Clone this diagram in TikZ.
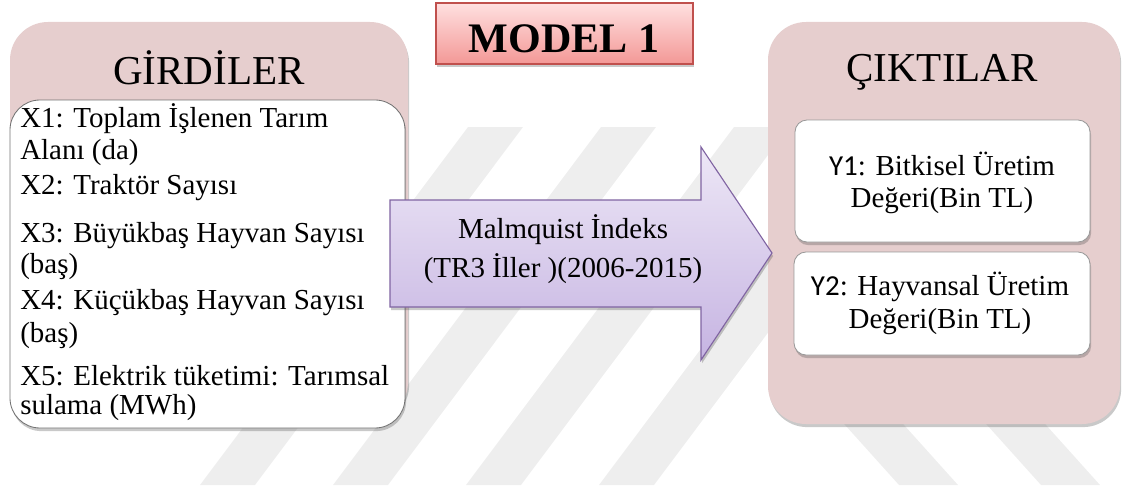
\documentclass[tikz,border=0pt]{standalone}
\usepackage{fontspec}
\setmainfont{Liberation Serif}
\newfontfamily\calibfont{Carlito}
\usepackage{tikz}
\usetikzlibrary{shadows}
\usepackage{xcolor}
\definecolor{boxpink}{RGB}{230,206,206}
\definecolor{wmgray}{RGB}{238,238,238}
\definecolor{modelred}{RGB}{192,80,77}
\definecolor{modeltop}{RGB}{255,224,224}
\definecolor{modelbot}{RGB}{243,152,150}
\definecolor{arrowline}{RGB}{128,100,162}
\definecolor{arrowtop}{RGB}{237,231,246}
\definecolor{arrowbot}{RGB}{198,180,226}

\begin{document}
\begin{tikzpicture}[x=0.025cm,y=-0.025cm,
  txt/.style={font=\fontsize{20.6}{24}\selectfont,inner sep=0pt},
  headtxt/.style={font=\fontsize{29.2}{34}\selectfont,inner sep=0pt},
  softshadow/.style={drop shadow={shadow xshift=0.8pt,shadow yshift=-2.2pt,opacity=0.3,fill=black!70}}]
\useasboundingbox (0,0) rectangle (1129,499);
% watermark
\begin{scope}
 \clip (0,127) rectangle (1129,485);
 \foreach \x in {200,333,466,599}
   \fill[wmgray] (\x,485) --++ (55,0) --++ (268,-358) --++ (-55,0) -- cycle;
\end{scope}
\begin{scope}
 \clip (776,300) rectangle (1129,485);
 \foreach \x in {899,1041}
   \fill[wmgray] (\x,485) --++ (59,0) --++ (-322,-358) --++ (-59,0) -- cycle;
\end{scope}
% inputs
\path[fill=boxpink,rounded corners=0.95cm,softshadow] (10,22) rectangle (408,420);
\path[fill=white,draw=black!55,line width=0.6pt,rounded corners=0.75cm,softshadow] (10,100) rectangle (405,428);
\node (girdi) [headtxt,anchor=base] at (209,85) {GİRDİLER};
\node (x1a) [txt,anchor=base west] at (20,127) {X1: Toplam İşlenen Tarım};
\node (x1b) [txt,anchor=base west] at (20,159) {Alanı (da)};
\node (x2)  [txt,anchor=base west] at (20,194) {X2: Traktör Sayısı};
\node (x3a) [txt,anchor=base west] at (20,242) {X3: Büyükbaş Hayvan Sayısı};
\node (x3b) [txt,anchor=base west] at (20,273) {(baş)};
\node (x4a) [txt,anchor=base west] at (20,309) {X4: Küçükbaş Hayvan Sayısı};
\node (x4b) [txt,anchor=base west] at (20,342) {(baş)};
\node (x5a) [txt,anchor=base west] at (20,385) {X5: Elektrik tüketimi: Tarımsal};
\node (x5b) [txt,anchor=base west] at (20,414) {sulama (MWh)};
% outputs
\path[fill=boxpink,rounded corners=0.95cm,softshadow] (768,22) rectangle (1120,424);
\node (cikti) [headtxt,anchor=base] at (942,82) {ÇIKTILAR};
\path[fill=white,draw=black!40,line width=0.6pt,rounded corners=0.3cm,softshadow] (795,120) rectangle (1090,242);
\path[fill=white,draw=black!40,line width=0.6pt,rounded corners=0.3cm,softshadow] (794,252) rectangle (1090,355);
\node (y1a) [txt,anchor=base] at (942,175) {{\calibfont Y1}: Bitkisel Üretim};
\node (y1b) [txt,anchor=base] at (942,207) {Değeri(Bin TL)};
\node (y2a) [txt,anchor=base] at (940,295) {{\calibfont Y2}: Hayvansal Üretim};
\node (y2b) [txt,anchor=base] at (940,328) {Değeri(Bin TL)};
% model title
\path[top color=modeltop,bottom color=modelbot,draw=modelred,line width=1pt,softshadow] (436,3) rectangle (693,64);
\node (model) [font=\fontsize{29.9}{34}\selectfont\bfseries,inner sep=0pt,anchor=base] at (564,53) {MODEL 1};
% arrow
\path[top color=arrowtop,bottom color=arrowbot,draw=arrowline,line width=0.8pt,softshadow]
  (390,200) -- (701,200) -- (701,147) -- (772,253) -- (701,360) -- (701,307) -- (390,307) -- cycle;
\node (mq1) [txt,anchor=base] at (563,238) {Malmquist İndeks};
\node (mq2) [txt,anchor=base] at (563,277) {(TR3 İller )(2006-2015)};
\end{tikzpicture}
\end{document}
